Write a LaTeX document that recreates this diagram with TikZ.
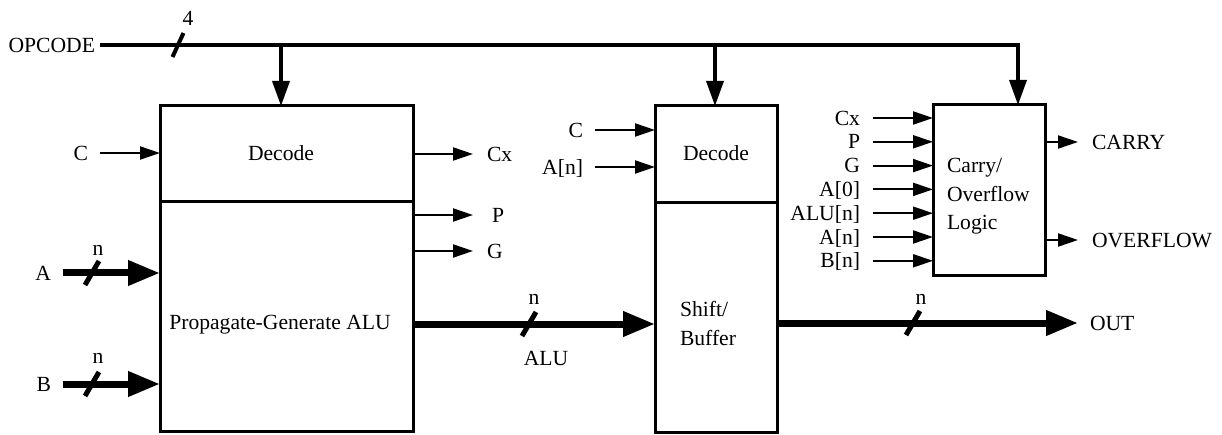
\documentclass[tikz,border=0pt]{standalone}
\usepackage{fontspec}
\setmainfont{Liberation Serif}
\usetikzlibrary{arrows.meta,calc}
\newcommand\lbf{\fontsize{21.6}{25}\selectfont}
\tikzset{
  txt/.style={inner sep=0pt, outer sep=0pt, text height=14.3pt, text depth=0pt, font=\lbf},
  ntxt/.style={inner sep=0pt, outer sep=0pt, font=\lbf},
  mtxt/.style={inner sep=0pt, outer sep=0pt, align=left},
  blk/.style={draw, line width=3pt, outer sep=0pt, inner sep=0pt},
  thinarr/.style={line width=2pt, -{Triangle[length=20pt,width=13pt]}},
  busarr/.style={line width=7pt, -{Triangle[length=32pt,width=24pt]}},
  oparr/.style={line width=3.5pt, -{Triangle[length=25pt,width=17pt]}},
  opline/.style={line width=3.5pt, line join=miter},
  slashmk/.style={line width=5pt},
}
\begin{document}
\begin{tikzpicture}[x=1pt,y=-1pt]
\useasboundingbox (0,0) rectangle (1222,435);

% blocks
\node[blk, anchor=north west, minimum width=253pt, minimum height=96pt] (dec1) at (160,106) {};
\node[blk, anchor=north west, minimum width=253pt, minimum height=229pt] (alu1) at (160,202) {};
\node[blk, anchor=north west, minimum width=122pt, minimum height=97pt] (dec2) at (655,106) {};
\node[blk, anchor=north west, minimum width=122pt, minimum height=229pt] (shift) at (655,203) {};
\node[blk, anchor=north west, minimum width=112pt, minimum height=171pt] (logic) at (933,105) {};

% block texts
\node[txt] (dec1t) at (281,153) {Decode};
\node[txt] (alu1t) at (280,322) {Propagate-Generate ALU};
\node[txt] (dec2t) at (716,153) {Decode};
\node[mtxt, font=\fontsize{21.6}{29}\selectfont, anchor=west] (shiftt) at (680,324) {Shift/\\Buffer};
\node[mtxt, font=\fontsize{21.6}{28.5}\selectfont, anchor=west] (logict) at (947,196.6) {Carry/\\Overflow\\Logic};

% OPCODE bus
\node[txt, anchor=east] (opc) at (95,45) {OPCODE};
\coordinate (j1) at (281,45);
\coordinate (j2) at (715,45);
\coordinate (j3) at (1018,45);
\draw[opline, oparr] ([xshift=5pt]opc.east) -- (j3) -- (j3 |- logic.north);
\draw[oparr] (j1) -- (j1 |- dec1.north);
\draw[oparr] (j2) -- (j2 |- dec2.north);
\coordinate (sOp) at (178,45);
\draw[line width=4pt] ($(sOp)+(-5.5,12)$) -- ($(sOp)+(5.5,-12)$);
\node[txt] (n4) at (188,18) {4};

% left inputs
\node[txt, anchor=east] (inC) at (88,153) {C};
\draw[thinarr] ([xshift=12pt]inC.east) -- (dec1.west |- inC.east);
\node[txt, anchor=east] (inA) at (51,273) {A};
\draw[busarr] ([xshift=12pt]inA.east) -- (alu1.west |- inA.east);
\node[txt, anchor=east] (inB) at (51,384) {B};
\draw[busarr] ([xshift=12pt]inB.east) -- (alu1.west |- inB.east);
\coordinate (sA) at (92,273);
\coordinate (sB) at (92,384);
\draw[slashmk] ($(sA)+(-7,12)$) -- ($(sA)+(7,-12)$);
\draw[slashmk] ($(sB)+(-7,12)$) -- ($(sB)+(7,-12)$);
\node[ntxt] (nA) at (98,250) {n};
\node[ntxt] (nB) at (98,358) {n};

% left block outputs
\node[txt, anchor=west] (oCx) at (487,154) {Cx};
\draw[thinarr] (dec1.east |- oCx.west) -- ([xshift=-14pt]oCx.west);
\node[txt, anchor=west] (oP) at (492,215) {P};
\draw[thinarr] (alu1.east |- oP.west) -- ([xshift=-19pt]oP.west);
\node[txt, anchor=west] (oG) at (487,251) {G};
\draw[thinarr] (alu1.east |- oG.west) -- ([xshift=-14pt]oG.west);

% ALU bus
\coordinate (aluy) at (500,324);
\draw[busarr] (alu1.east |- aluy) -- (shift.west |- aluy);
\coordinate (sAlu) at (529,324);
\draw[slashmk] ($(sAlu)+(-7,12)$) -- ($(sAlu)+(7,-12)$);
\node[ntxt] (nAlu) at (534,299) {n};
\node[txt] (aluLbl) at (546,358) {ALU};

% middle inputs
\node[txt, anchor=east] (mC) at (583,130) {C};
\draw[thinarr] ([xshift=12pt]mC.east) -- (dec2.west |- mC.east);
\node[txt, anchor=east] (mAn) at (583,167) {A[n]};
\draw[thinarr] ([xshift=12pt]mAn.east) -- (dec2.west |- mAn.east);

% OUT bus
\node[txt, anchor=west] (outL) at (1090,323) {OUT};
\draw[busarr] (shift.east |- outL.west) -- ([xshift=-12pt]outL.west);
\coordinate (sOut) at (913,323);
\draw[slashmk] ($(sOut)+(-7,12)$) -- ($(sOut)+(7,-12)$);
\node[ntxt] (nOut) at (921,299) {n};

% carry logic inputs
\node[txt, anchor=east] (iCx) at (860,118) {Cx};
\node[txt, anchor=east] (iP) at (860,141.8) {P};
\node[txt, anchor=east] (iG) at (860,165.6) {G};
\node[txt, anchor=east] (iA0) at (860,189.4) {A[0]};
\node[txt, anchor=east] (iALU) at (860,213.2) {ALU[n]};
\node[txt, anchor=east] (iAn) at (860,237) {A[n]};
\node[txt, anchor=east] (iBn) at (860,260.8) {B[n]};
\foreach \n in {iCx,iP,iG,iA0,iALU,iAn,iBn}
  \draw[thinarr] ([xshift=13pt]\n.east) -- (logic.west |- \n.east);

% carry logic outputs
\node[txt, anchor=west] (oCarry) at (1092,142) {CARRY};
\draw[thinarr] (logic.east |- oCarry.west) -- ([xshift=-14pt]oCarry.west);
\node[txt, anchor=west] (oOvf) at (1092,240) {OVERFLOW};
\draw[thinarr] (logic.east |- oOvf.west) -- ([xshift=-14pt]oOvf.west);
\end{tikzpicture}
\end{document}
